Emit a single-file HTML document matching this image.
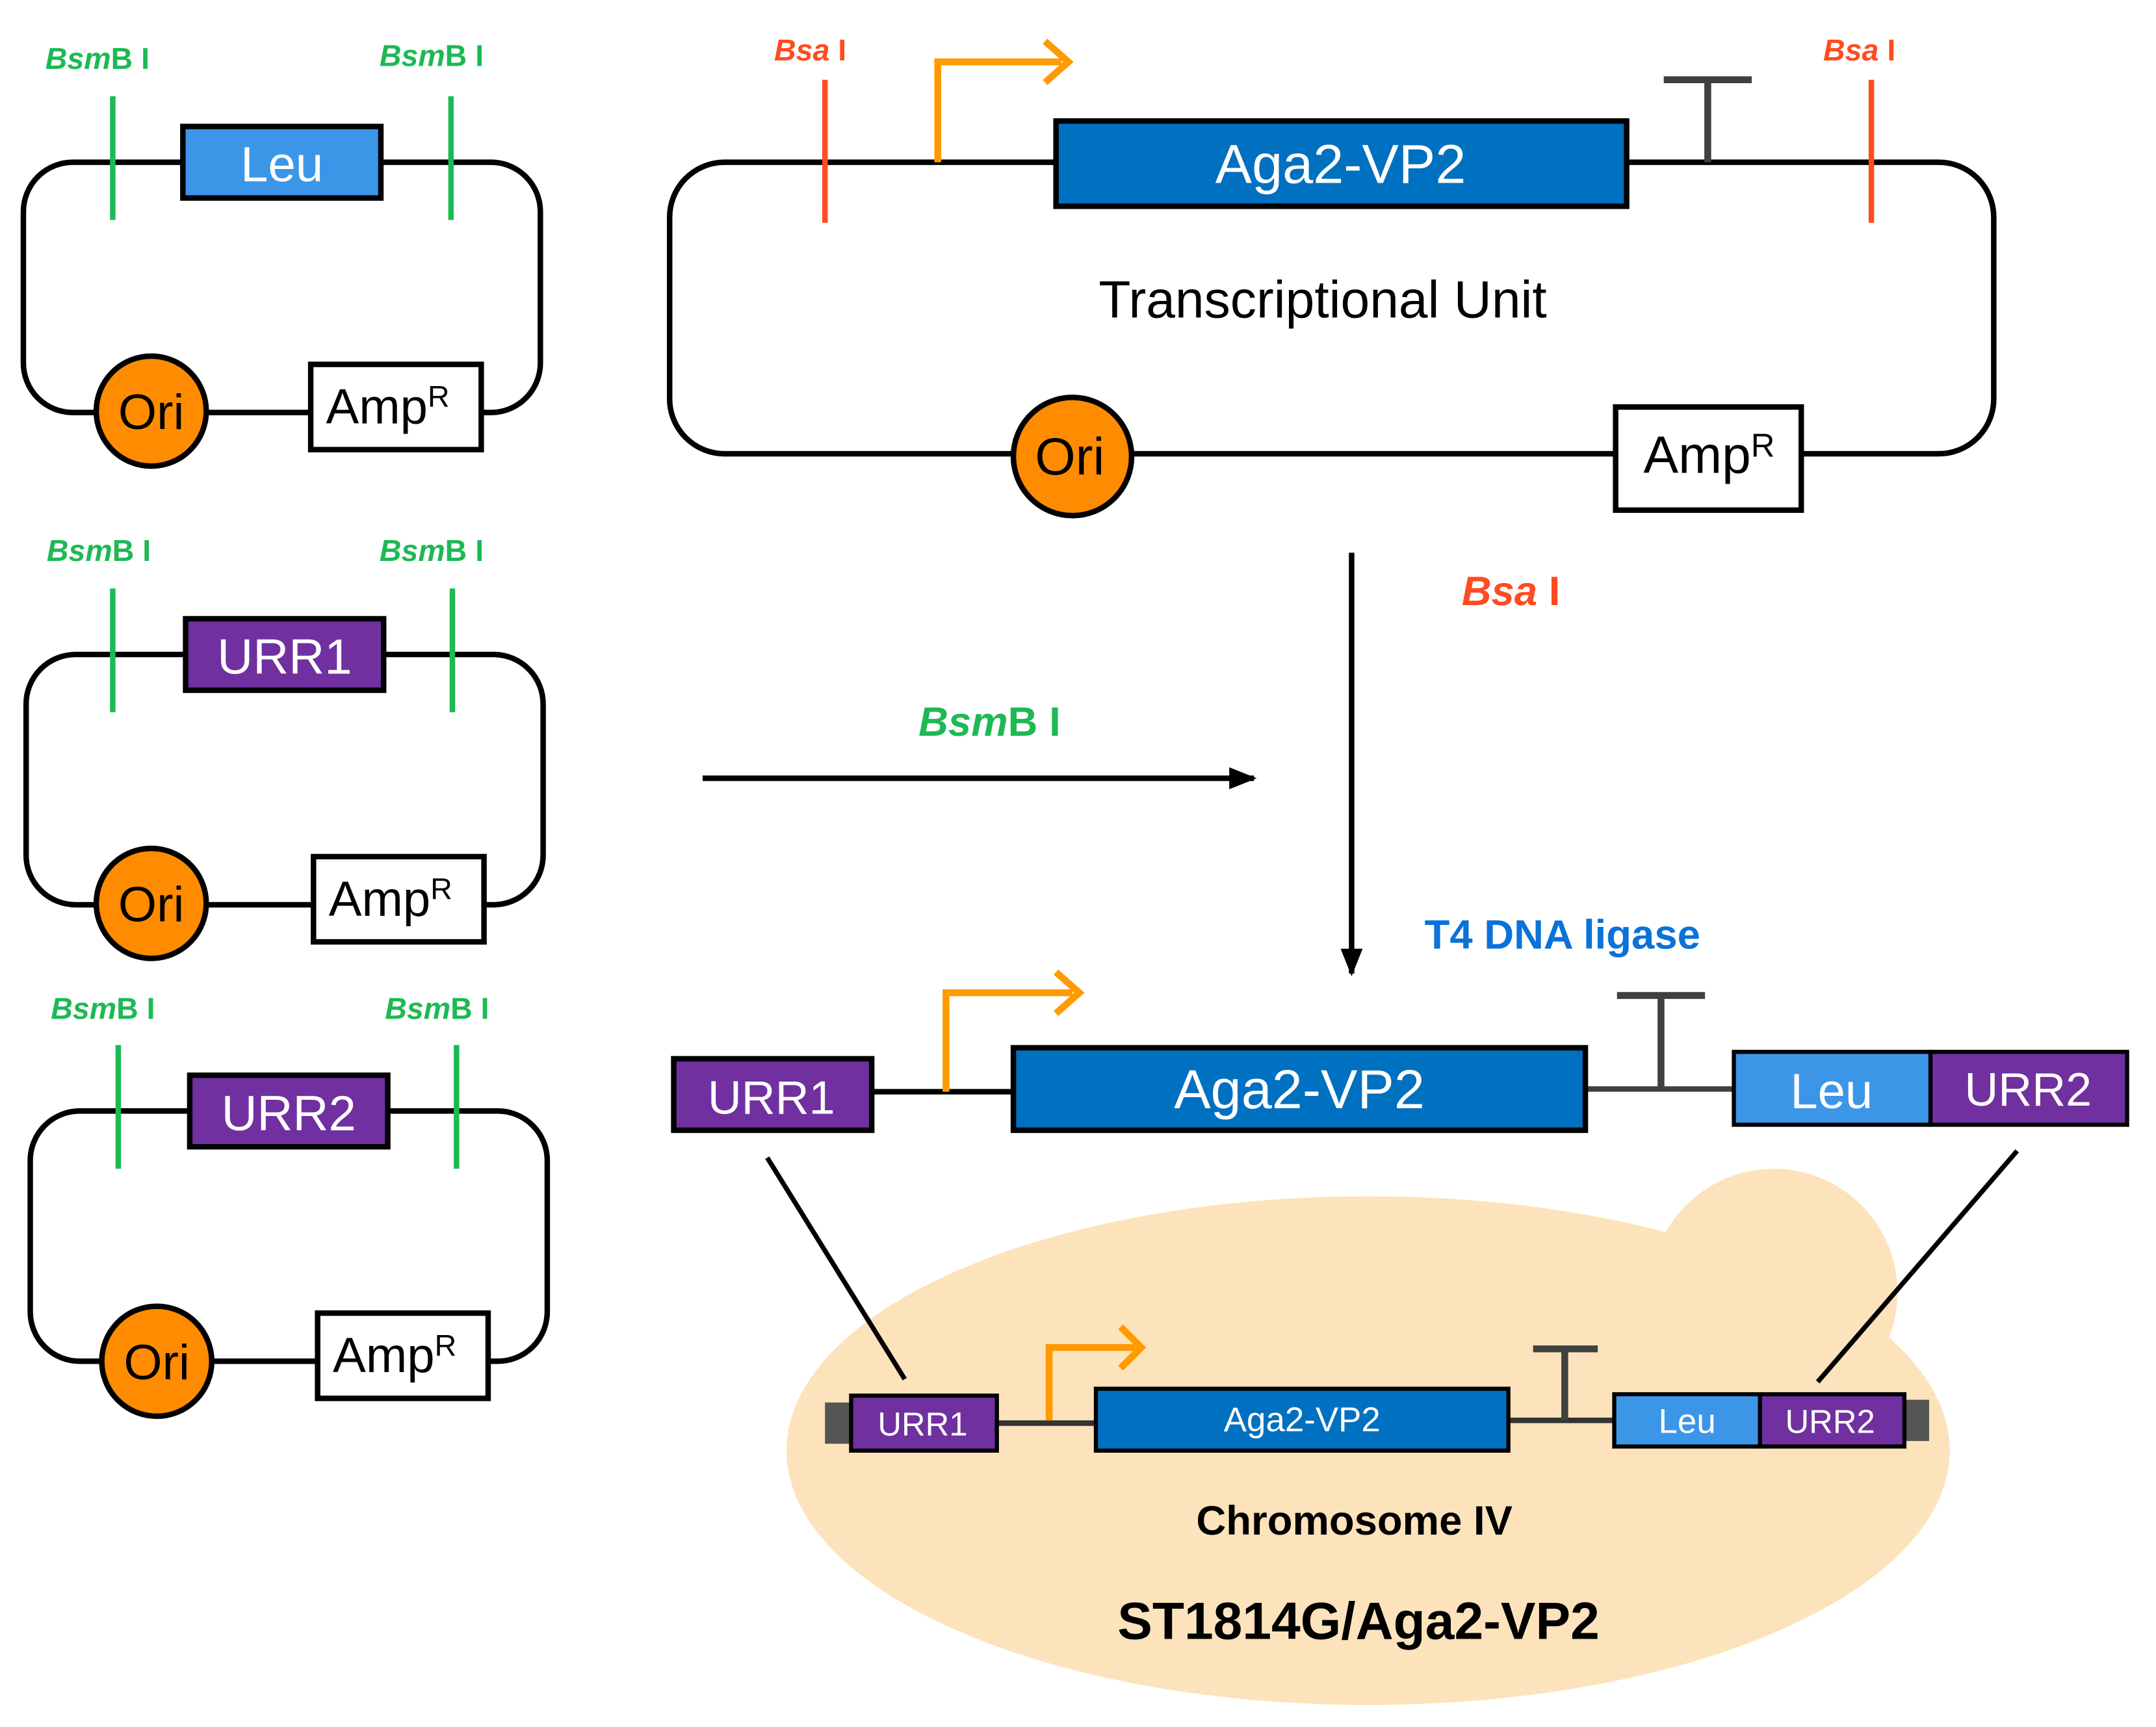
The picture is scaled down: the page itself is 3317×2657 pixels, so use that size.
<!DOCTYPE html>
<html><head><meta charset="utf-8"><style>
html,body{margin:0;padding:0;background:#fff;}
svg{display:block;}
text{font-family:"Liberation Sans",sans-serif;}
</style></head><body>
<svg width="3317" height="2657" viewBox="0 0 1568 1256" preserveAspectRatio="none" xmlns="http://www.w3.org/2000/svg">
<defs>
<marker id="ah" markerWidth="20" markerHeight="16" refX="18" refY="8" orient="auto" markerUnits="userSpaceOnUse"><path d="M0,0 L20,8 L0,16 z" fill="#000"/></marker>
</defs>
<rect width="1568" height="1256" fill="#fff"/>

<g>
<rect x="17" y="118" width="376" height="182" rx="36" fill="none" stroke="#000" stroke-width="4"/>
<line x1="82" y1="70" x2="82" y2="160" stroke="#1db954" stroke-width="4"/>
<line x1="328" y1="70" x2="328" y2="160" stroke="#1db954" stroke-width="4"/>
<rect x="133" y="92" width="144" height="52" fill="#3b96e8" stroke="#000" stroke-width="4"/>
<text x="205" y="132" font-size="36" fill="#fff" text-anchor="middle">Leu</text>
<rect x="226" y="265" width="124" height="62" fill="#fff" stroke="#000" stroke-width="4"/>
<text x="282" y="308" font-size="36" text-anchor="middle">Amp<tspan font-size="22" dy="-12">R</tspan></text>
<circle cx="110" cy="299" r="40" fill="#ff8c00" stroke="#000" stroke-width="4"/>
<text x="110" y="312" font-size="36" text-anchor="middle">Ori</text>
<text x="33" y="50" font-size="22" font-weight="bold" fill="#1db954"><tspan font-style="italic">Bsm</tspan>B I</text>
<text x="276" y="48" font-size="22" font-weight="bold" fill="#1db954"><tspan font-style="italic">Bsm</tspan>B I</text>
</g>

<g transform="translate(2,358)">
<rect x="17" y="118" width="376" height="182" rx="36" fill="none" stroke="#000" stroke-width="4"/>
<line x1="80" y1="70" x2="80" y2="160" stroke="#1db954" stroke-width="4"/>
<line x1="327" y1="70" x2="327" y2="160" stroke="#1db954" stroke-width="4"/>
<rect x="133" y="92" width="144" height="52" fill="#7030a0" stroke="#000" stroke-width="4"/>
<text x="205" y="132" font-size="36" fill="#fff" text-anchor="middle">URR1</text>
<rect x="226" y="265" width="124" height="62" fill="#fff" stroke="#000" stroke-width="4"/>
<text x="282" y="308" font-size="36" text-anchor="middle">Amp<tspan font-size="22" dy="-12">R</tspan></text>
<circle cx="108" cy="299" r="40" fill="#ff8c00" stroke="#000" stroke-width="4"/>
<text x="108" y="312" font-size="36" text-anchor="middle">Ori</text>
<text x="32" y="50" font-size="22" font-weight="bold" fill="#1db954"><tspan font-style="italic">Bsm</tspan>B I</text>
<text x="274" y="50" font-size="22" font-weight="bold" fill="#1db954"><tspan font-style="italic">Bsm</tspan>B I</text>
</g>

<g transform="translate(5,690)">
<rect x="17" y="118" width="376" height="182" rx="36" fill="none" stroke="#000" stroke-width="4"/>
<line x1="81" y1="70" x2="81" y2="160" stroke="#1db954" stroke-width="4"/>
<line x1="327" y1="70" x2="327" y2="160" stroke="#1db954" stroke-width="4"/>
<rect x="133" y="92" width="144" height="52" fill="#7030a0" stroke="#000" stroke-width="4"/>
<text x="205" y="132" font-size="36" fill="#fff" text-anchor="middle">URR2</text>
<rect x="226" y="265" width="124" height="62" fill="#fff" stroke="#000" stroke-width="4"/>
<text x="282" y="308" font-size="36" text-anchor="middle">Amp<tspan font-size="22" dy="-12">R</tspan></text>
<circle cx="109" cy="300" r="40" fill="#ff8c00" stroke="#000" stroke-width="4"/>
<text x="109" y="313" font-size="36" text-anchor="middle">Ori</text>
<text x="32" y="51" font-size="22" font-weight="bold" fill="#1db954"><tspan font-style="italic">Bsm</tspan>B I</text>
<text x="275" y="51" font-size="22" font-weight="bold" fill="#1db954"><tspan font-style="italic">Bsm</tspan>B I</text>
</g>

<rect x="487" y="118" width="963" height="212" rx="40" fill="none" stroke="#000" stroke-width="4"/>
<line x1="600" y1="58" x2="600" y2="162" stroke="#ff4b1f" stroke-width="4"/>
<line x1="1361" y1="58" x2="1361" y2="162" stroke="#ff4b1f" stroke-width="4"/>
<text x="563" y="44" font-size="22" font-weight="bold" fill="#ff4b1f"><tspan font-style="italic">Bsa</tspan> I</text>
<text x="1326" y="44" font-size="22" font-weight="bold" fill="#ff4b1f"><tspan font-style="italic">Bsa</tspan> I</text>
<polyline points="682,118 682,45 772,45" fill="none" stroke="#ff9a00" stroke-width="5"/>
<polyline points="760,30 777,45 760,60" fill="none" stroke="#ff9a00" stroke-width="5"/>
<rect x="768" y="88" width="415" height="62" fill="#0070c0" stroke="#000" stroke-width="4"/>
<text x="975" y="133" font-size="40" fill="#fff" text-anchor="middle">Aga2-VP2</text>
<line x1="1242" y1="58" x2="1242" y2="118" stroke="#404040" stroke-width="5"/>
<line x1="1210" y1="58" x2="1274" y2="58" stroke="#404040" stroke-width="5"/>
<text x="962" y="231" font-size="38" text-anchor="middle">Transcriptional Unit</text>
<rect x="1175" y="296" width="135" height="75" fill="#fff" stroke="#000" stroke-width="4"/>
<text x="1243" y="344" font-size="38" text-anchor="middle">Amp<tspan font-size="24" dy="-12">R</tspan></text>
<circle cx="780" cy="332" r="43" fill="#ff8c00" stroke="#000" stroke-width="4"/>
<text x="778" y="345" font-size="38" text-anchor="middle">Ori</text>

<line x1="983" y1="402" x2="983" y2="708" stroke="#000" stroke-width="4" marker-end="url(#ah)"/>
<text x="1063" y="440" font-size="30" font-weight="bold" fill="#ff4b1f"><tspan font-style="italic">Bsa</tspan> I</text>
<line x1="511" y1="566" x2="912" y2="566" stroke="#000" stroke-width="4" marker-end="url(#ah)"/>
<text x="668" y="535" font-size="30" font-weight="bold" fill="#1db954"><tspan font-style="italic">Bsm</tspan>B I</text>
<text x="1036" y="690" font-size="30" font-weight="bold" fill="#0a72d8">T4 DNA ligase</text>

<circle cx="1290" cy="940" r="90" fill="#fde3bb"/>
<ellipse cx="995" cy="1055" rx="423" ry="185" fill="#fde3bb"/>

<line x1="634" y1="794" x2="737" y2="794" stroke="#000" stroke-width="4"/>
<line x1="1153" y1="792" x2="1261" y2="792" stroke="#404040" stroke-width="4"/>
<rect x="490" y="770" width="144" height="52" fill="#7030a0" stroke="#000" stroke-width="4"/>
<text x="561" y="810" font-size="34" fill="#fff" text-anchor="middle">URR1</text>
<polyline points="688,794 688,722 780,722" fill="none" stroke="#ff9a00" stroke-width="5"/>
<polyline points="768,707 785,722 768,737" fill="none" stroke="#ff9a00" stroke-width="5"/>
<rect x="737" y="762" width="416" height="60" fill="#0070c0" stroke="#000" stroke-width="4"/>
<text x="945" y="806" font-size="40" fill="#fff" text-anchor="middle">Aga2-VP2</text>
<line x1="1208" y1="724" x2="1208" y2="792" stroke="#404040" stroke-width="5"/>
<line x1="1176" y1="724" x2="1240" y2="724" stroke="#404040" stroke-width="5"/>
<rect x="1261" y="765" width="143" height="53" fill="#3b96e8" stroke="#000" stroke-width="3"/>
<text x="1332" y="806" font-size="36" fill="#fff" text-anchor="middle">Leu</text>
<rect x="1404" y="765" width="143" height="53" fill="#7030a0" stroke="#000" stroke-width="3"/>
<text x="1475" y="804" font-size="34" fill="#fff" text-anchor="middle">URR2</text>

<line x1="558" y1="842" x2="658" y2="1003" stroke="#000" stroke-width="3.5"/>
<line x1="1467" y1="837" x2="1322" y2="1005" stroke="#000" stroke-width="3.5"/>

<line x1="725" y1="1035" x2="797" y2="1035" stroke="#333" stroke-width="4"/>
<line x1="1097" y1="1033" x2="1174" y2="1033" stroke="#333" stroke-width="4"/>
<rect x="600" y="1020" width="19" height="30" fill="#555"/>
<rect x="1385" y="1018" width="18" height="30" fill="#555"/>
<rect x="619" y="1015" width="106" height="40" fill="#7030a0" stroke="#000" stroke-width="3"/>
<text x="671" y="1044" font-size="24" fill="#fff" text-anchor="middle">URR1</text>
<polyline points="763,1033 763,980 826,980" fill="none" stroke="#ff9a00" stroke-width="5"/>
<polyline points="815,965 830,980 815,995" fill="none" stroke="#ff9a00" stroke-width="5"/>
<rect x="797" y="1010" width="300" height="45" fill="#0070c0" stroke="#000" stroke-width="3"/>
<text x="947" y="1041" font-size="25" fill="#fff" text-anchor="middle">Aga2-VP2</text>
<line x1="1138" y1="980" x2="1138" y2="1033" stroke="#404040" stroke-width="5"/>
<line x1="1115" y1="981" x2="1162" y2="981" stroke="#404040" stroke-width="5"/>
<rect x="1174" y="1014" width="106" height="38" fill="#3b96e8" stroke="#000" stroke-width="3"/>
<text x="1227" y="1042" font-size="25" fill="#fff" text-anchor="middle">Leu</text>
<rect x="1280" y="1014" width="105" height="38" fill="#7030a0" stroke="#000" stroke-width="3"/>
<text x="1331" y="1042" font-size="24" fill="#fff" text-anchor="middle">URR2</text>
<text x="985" y="1116" font-size="30" font-weight="bold" text-anchor="middle">Chromosome IV</text>
<text x="988" y="1192" font-size="38" font-weight="bold" text-anchor="middle">ST1814G/Aga2-VP2</text>
</svg>
</body></html>
